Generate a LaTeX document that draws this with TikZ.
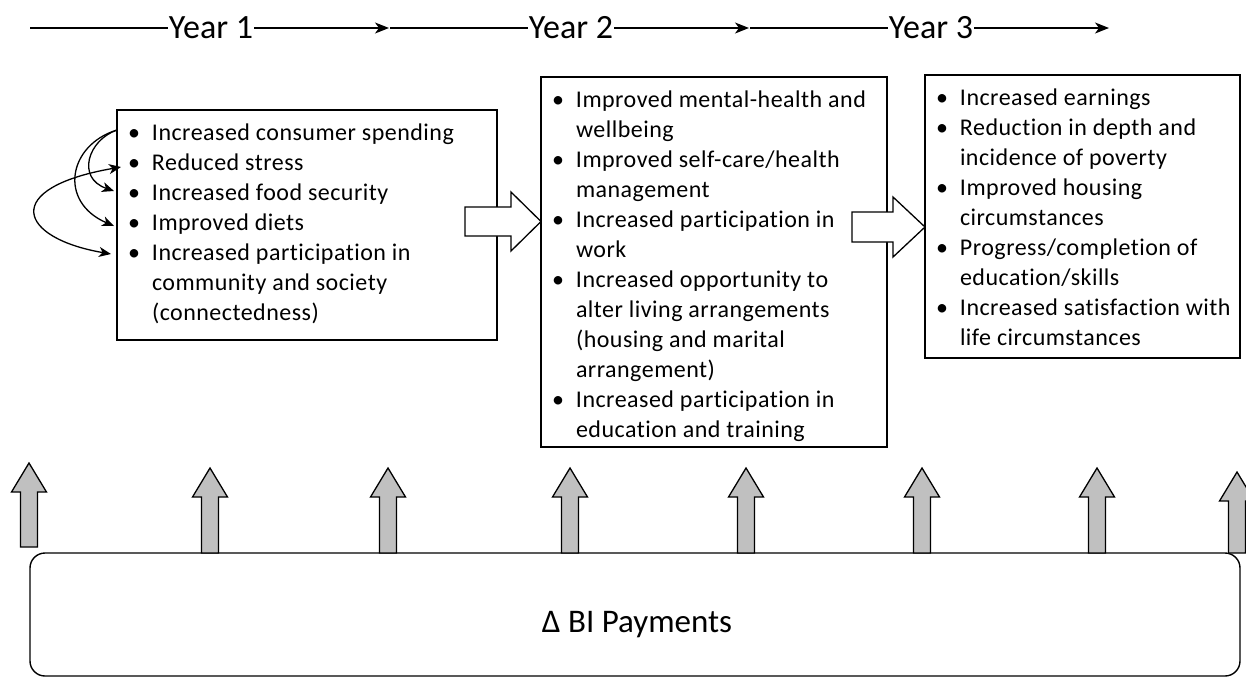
\documentclass[tikz,border=0pt]{standalone}
\usepackage{fontspec}
\setmainfont{Carlito}
\newfontfamily\itemfont[LetterSpace=2,Ligatures=NoCommon]{Carlito}
\usetikzlibrary{arrows.meta}
\definecolor{paygray}{HTML}{C0C0C0}
\newcommand{\bp}{\makebox[18pt]{\textbullet}}
\begin{document}
\begin{tikzpicture}[x=1pt,y=-1pt,
  every node/.style={inner sep=0pt, outer sep=0pt},
  frame/.style={draw, line width=1.4pt, fill=white, anchor=north west},
  items/.style={anchor=north west, font=\itemfont\fontsize{24}{30}\selectfont},
  yearlabel/.style={anchor=base, inner xsep=1pt, font=\fontsize{34}{40}\selectfont},
  timeline/.style={line width=1.3pt},
  timearrow/.style={timeline, -{Stealth[length=14pt,width=11pt,inset=4pt]}},
  loophead/.style={Stealth[length=12pt,width=10pt,inset=3.5pt]},
  loop/.style={line width=1.3pt, -{Stealth[length=12pt,width=10pt,inset=3.5pt]}},
  looptwo/.style={line width=1.3pt, {Stealth[length=12pt,width=10pt,inset=3.5pt]}-{Stealth[length=12pt,width=10pt,inset=3.5pt]}},
  fatarrow/.style={draw, line width=1.3pt, fill=white, line join=miter},
  payarrow/.style={draw, line width=1.3pt, fill=paygray, line join=miter},
]
\useasboundingbox (0,0) rectangle (1246,678);

% ---- timeline ----
\foreach \k/\lab in {0/Year 1,1/Year 2,2/Year 3}{
  \pgfmathsetmacro{\xs}{30+360*\k}
  \coordinate (s\k) at (\xs,28);
  \coordinate (e\k) at (\xs+359,28);
  \node[yearlabel] (y\k) at (\xs+181,38) {\lab};
  \draw[timeline] (s\k) -- (s\k -| y\k.west);
  \draw[timearrow] (s\k -| y\k.east) -- (e\k);
}

% ---- outcome boxes ----
\node[frame, minimum width=380pt, minimum height=230pt] (b1) at (117,110) {};
\node[frame, minimum width=346pt, minimum height=370pt] (b2) at (541,77) {};
\node[frame, minimum width=315pt, minimum height=283pt] (b3) at (925,75) {};

\node[items] (t1) at ([shift={(8,9)}]b1.north west) {%
\begin{tabular}{@{}l@{\hspace{9pt}}l@{}}
\bp & Increased consumer spending\\
\bp & Reduced stress\\
\bp & Increased food security\\
\bp & Improved diets\\
\bp & Increased participation in\\
    & community and society\\
    & (connectedness)
\end{tabular}};

\node[items] (t2) at ([shift={(8,9)}]b2.north west) {%
\begin{tabular}{@{}l@{\hspace{9pt}}l@{}}
\bp & Improved mental-health and\\
    & wellbeing\\
\bp & Improved self-care/health\\
    & management\\
\bp & Increased participation in\\
    & work\\
\bp & Increased opportunity to\\
    & alter living arrangements\\
    & (housing and marital\\
    & arrangement)\\
\bp & Increased participation in\\
    & education and training
\end{tabular}};

\node[items] (t3) at ([shift={(8,9)}]b3.north west) {%
\begin{tabular}{@{}l@{\hspace{9pt}}l@{}}
\bp & Increased earnings\\
\bp & Reduction in depth and\\
    & incidence of poverty\\
\bp & Improved housing\\
    & circumstances\\
\bp & Progress/completion of\\
    & education/skills\\
\bp & Increased satisfaction with\\
    & life circumstances
\end{tabular}};

% ---- links between the year-1 outcomes ----
\coordinate (src)   at (117,130);
\coordinate (food)  at (114,191);
\coordinate (diet)  at (114,226);
\coordinate (calm)  at (121,167);
\coordinate (part)  at (111,254);
\draw[loop] (src) .. controls (88,140) and (76,178) .. (food);
\draw[loop] (src) .. controls (68,145) and (58,202) .. (diet);
\draw[looptwo] (part) .. controls (18,238) and (0,188) .. (calm);

% ---- block arrows between the years ----
\draw[fatarrow] (465,207) -- (511,207) -- (511,192) -- (b2.west |- 0,221.5)
  -- (511,251) -- (511,236) -- (465,236) -- cycle;
\draw[fatarrow] (852,212) -- (893,212) -- (893,197) -- (b3.west |- 0,227)
  -- (893,257) -- (893,242) -- (852,242) -- cycle;

% ---- payments base ----
\node[draw, line width=1.4pt, rounded corners=15pt, anchor=north west,
      minimum width=1210pt, minimum height=123pt] (bi) at (30,553) {};
\node[anchor=base, font=\fontsize{33}{40}\selectfont] (pay) at (637,632) {Δ BI Payments};

% ---- payment pulses ----
\foreach \cx/\ty/\by in {29/463/547, 210/468/553, 388/468/553, 570/468/553,
                         746/468/553, 922/468/553, 1097/468/553, 1237/472/553}{
  \draw[payarrow] (\cx-8.5,\by) -- (\cx-8.5,\ty+29) -- (\cx-17.5,\ty+29)
    -- (\cx,\ty) -- (\cx+17.5,\ty+29) -- (\cx+8.5,\ty+29) -- (\cx+8.5,\by) -- cycle;
}
\end{tikzpicture}
\end{document}
